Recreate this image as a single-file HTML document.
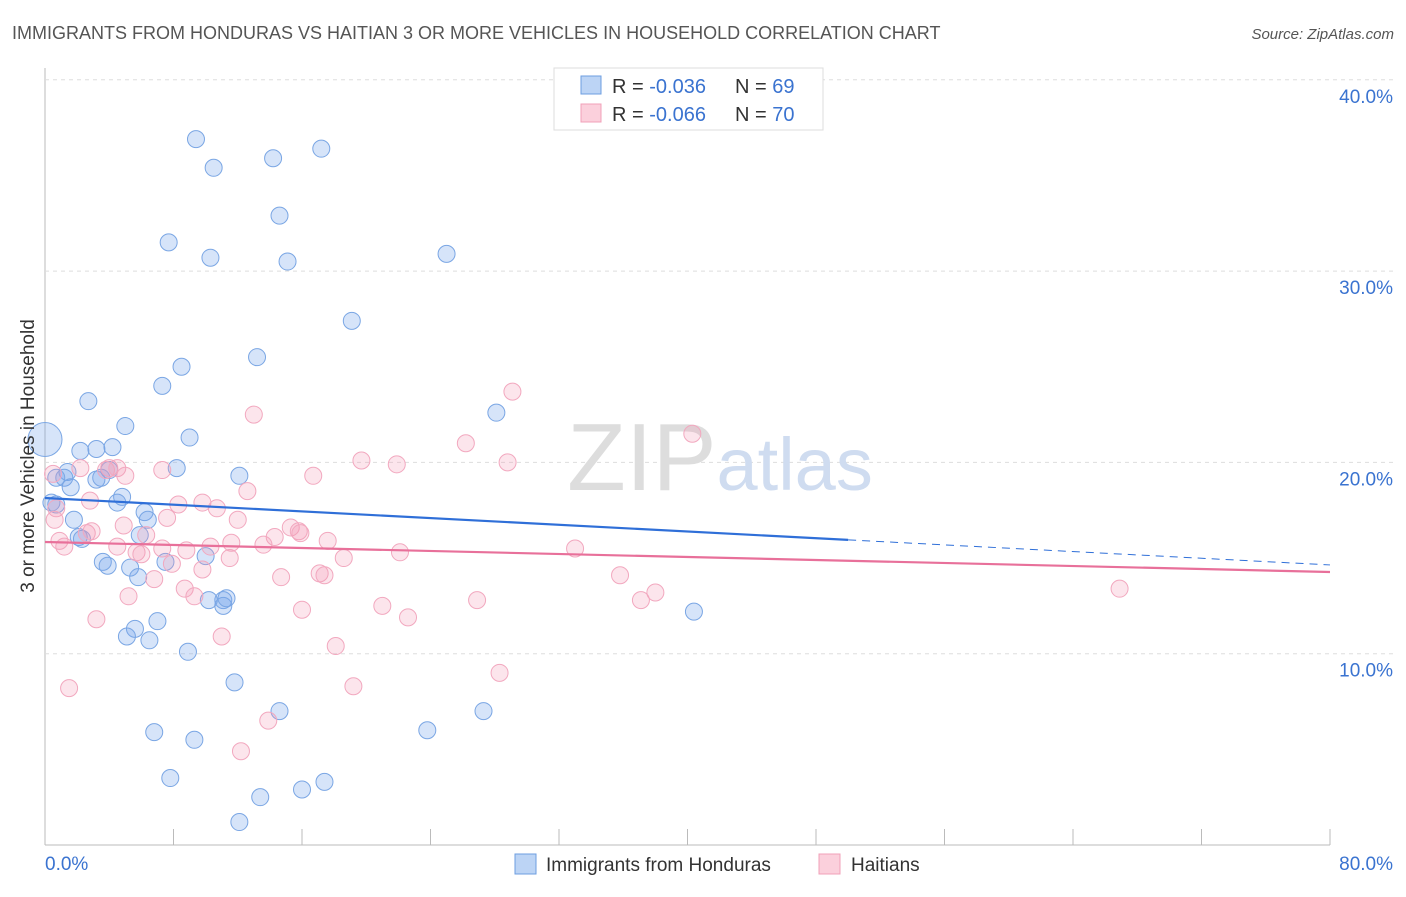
<!DOCTYPE html>
<html><head><meta charset="utf-8"><style>
body{margin:0;background:#fff;font-family:"Liberation Sans",sans-serif}
svg text{font-family:"Liberation Sans",sans-serif}
</style></head><body>
<svg id="chart" width="1406" height="892" xmlns="http://www.w3.org/2000/svg">
<text x="12" y="39" font-size="18" fill="#555">IMMIGRANTS FROM HONDURAS VS HAITIAN 3 OR MORE VEHICLES IN HOUSEHOLD CORRELATION CHART</text>
<text x="1394" y="39" font-size="15" fill="#555" text-anchor="end" font-style="italic">Source: ZipAtlas.com</text>
<g id="grid"></g>
<text x="720" y="490" font-size="96" text-anchor="middle" fill="#ddd" font-family="Liberation Serif">ZIP<tspan fill="#cfdcf0" font-family="Liberation Sans" font-size="74">atlas</tspan></text>
<g id="pts"></g>
<g id="lines"></g>
<text transform="translate(34,456) rotate(-90)" font-size="19" fill="#333" text-anchor="middle">3 or more Vehicles in Household</text>
<g>
<rect x="554" y="68" width="269" height="62" fill="#fff" stroke="#ddd"/>
<rect x="581" y="76" width="20" height="18" fill="#bcd4f5" stroke="#6d9ee0"/>
<rect x="581" y="104" width="20" height="18" fill="#fbd0dc" stroke="#f0a0b8"/>
<text x="612" y="93" font-size="20" fill="#333">R = <tspan fill="#3a73d0">-0.036</tspan></text>
<text x="735" y="93" font-size="20" fill="#333">N = <tspan fill="#3a73d0">69</tspan></text>
<text x="612" y="121" font-size="20" fill="#333">R = <tspan fill="#3a73d0">-0.066</tspan></text>
<text x="735" y="121" font-size="20" fill="#333">N = <tspan fill="#3a73d0">70</tspan></text>
</g>
<g>
<rect x="515" y="854" width="21" height="20" fill="#bcd4f5" stroke="#6d9ee0"/>
<text x="546" y="871" font-size="19" fill="#333">Immigrants from Honduras</text>
<rect x="819" y="854" width="21" height="20" fill="#fbd0dc" stroke="#f0a0b8"/>
<text x="851" y="871" font-size="19" fill="#333">Haitians</text>
</g>
</svg>
<script>
const yTicks=[10,20,30,40];
const xTickLabels=["0.0%","80.0%"];
const blueX=[9.4,10.5,14.2,17.2,14.6,7.7,10.3,15.1,25.0,19.1,13.2,8.5,7.3,2.7,28.1,9.0,5.0,2.2,3.2,4.2,0.0,8.2,12.1,1.4,1.2,0.7,3.2,3.5,4.0,1.6,4.8,4.5,0.4,0.7,6.2,6.4,1.8,2.1,2.3,5.9,10.0,7.5,3.6,3.9,5.3,5.8,11.1,11.1,11.3,10.2,7.0,5.6,5.1,6.5,8.9,11.8,40.4,14.6,27.3,23.8,6.8,9.3,7.8,17.4,16.0,13.4,12.1];
const blueY=[36.9,35.4,35.9,36.4,32.9,31.5,30.7,30.5,30.9,27.4,25.5,25.0,24.0,23.2,22.6,21.3,21.9,20.6,20.7,20.8,21.2,19.7,19.3,19.5,19.2,19.2,19.1,19.2,19.6,18.7,18.2,17.9,17.9,17.8,17.4,17.0,17.0,16.1,16.0,16.2,15.1,14.8,14.8,14.6,14.5,14.0,12.8,12.5,12.9,12.8,11.7,11.3,10.9,10.7,10.1,8.5,12.2,7.0,7.0,6.0,5.9,5.5,3.5,3.3,2.9,2.5,1.2];
const pinkX=[29.1,40.3,26.2,13.0,19.7,21.9,28.8,16.7,7.3,4.0,3.8,4.5,5.0,2.2,0.5,12.6,2.8,8.3,9.8,10.7,0.7,0.6,4.9,7.6,12.0,15.3,15.8,15.9,14.3,17.6,2.6,2.9,6.3,0.9,1.2,4.5,5.7,7.3,8.8,11.6,10.3,11.5,13.6,18.6,22.1,33.0,6.0,7.9,9.8,17.1,17.4,14.7,35.8,6.8,8.7,9.3,5.2,38.0,37.1,26.9,21.0,16.0,22.6,3.2,11.0,18.1,28.3,1.5,19.2,13.9,12.2,66.9];
const pinkY=[23.7,21.5,21.0,22.5,20.1,19.9,20.0,19.3,19.6,19.7,19.6,19.7,19.3,19.7,19.4,18.5,18.0,17.8,17.9,17.6,17.6,17.0,16.7,17.1,17.0,16.6,16.4,16.3,16.1,15.9,16.3,16.4,16.2,15.9,15.6,15.6,15.3,15.5,15.4,15.8,15.6,15.0,15.7,15.0,15.3,15.5,15.2,14.7,14.4,14.2,14.1,14.0,14.1,13.9,13.4,13.0,13.0,13.2,12.8,12.8,12.5,12.3,11.9,11.8,10.9,10.4,9.0,8.2,8.3,6.5,4.9,13.4];
const blueTrend=[18.14,15.95,14.64]; // at x=0,50,80
const pinkTrend=[15.84,14.27]; // at x=0,80
const NS="http://www.w3.org/2000/svg";
const X=v=>45+v/80*1285, Y=v=>845-v*19.13;
function mk(t,a,p){const e=document.createElementNS(NS,t);for(const k in a)e.setAttribute(k,a[k]);p.appendChild(e);return e;}
const grid=document.getElementById('grid');
let ax=mk('line',{x1:45,y1:68,x2:45,y2:845,stroke:'#bbb'},grid);


let bx=mk('line',{x1:45,y1:845,x2:1330,y2:845,stroke:'#bbb'},grid);


yTicks.forEach(t=>{
 const g=mk('line',{x1:45,y1:Y(t),x2:1393,y2:Y(t),stroke:'#ddd','stroke-dasharray':'4,4'},grid);
 
 
 const l=mk('text',{x:1393,y:Y(t)+23,'font-size':19,fill:'#3a73d0','text-anchor':'end'},grid);
 l.textContent=t.toFixed(1)+'%';
 
 
});
for(let i=0;i<=10;i++){
 const tk=mk('line',{x1:X(i*8),y1:829,x2:X(i*8),y2:845,stroke:'#bbb'},grid);
 
 
}
[[0,'start',45],[1,'end',1393]].forEach(([i,a,x])=>{
 const l=mk('text',{x:x,y:870,'font-size':19,fill:'#3a73d0','text-anchor':a},grid);
 l.textContent=xTickLabels[i];
 
 
});
const pts=document.getElementById('pts');
blueX.forEach((v,i)=>{
 const c=mk('circle',{cx:X(v),cy:Y(blueY[i]),r:(v===0?17:8.5),fill:'rgba(120,165,235,0.3)',stroke:'#7aa6e4','stroke-width':1},pts);
 
 
});
pinkX.forEach((v,i)=>{
 const c=mk('circle',{cx:X(v),cy:Y(pinkY[i]),r:8.5,fill:'rgba(245,150,180,0.25)',stroke:'#f2a8bf','stroke-width':1},pts);
 
 
});
const ln=document.getElementById('lines');
let b1=mk('line',{x1:X(0),y1:Y(blueTrend[0]),x2:X(50),y2:Y(blueTrend[1]),stroke:'#2f6fd8','stroke-width':2.2},ln);


let b2=mk('line',{x1:X(50),y1:Y(blueTrend[1]),x2:X(80),y2:Y(blueTrend[2]),stroke:'#2f6fd8','stroke-width':1,'stroke-dasharray':'8,6'},ln);


let p1=mk('line',{x1:X(0),y1:Y(pinkTrend[0]),x2:X(80),y2:Y(pinkTrend[1]),stroke:'#e8709a','stroke-width':2.2},ln);


</script>
</body></html>
